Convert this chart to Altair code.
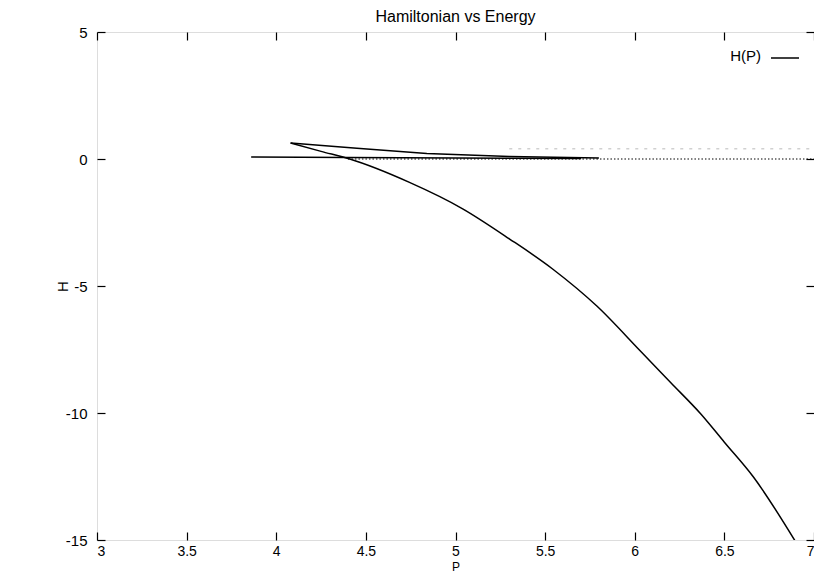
import altair as alt
import pandas as pd

# Main branch of the curve H(P)
main_P = [4.08, 4.25, 4.41, 4.74, 5.04, 5.30, 5.54, 5.79, 6.03, 6.20, 6.37, 6.50, 6.66, 6.90]
main_H = [0.63, 0.30, 0.00, -0.91, -1.96, -3.14, -4.32, -5.80, -7.55, -8.80, -10.05, -11.15, -12.5, -15.1]

# Upper branch leaving the cusp
upper_P = [4.08, 4.45, 4.84, 5.30, 5.80]
upper_H = [0.63, 0.42, 0.22, 0.10, 0.04]

# Nearly flat branch
flat_P = [3.86, 4.40, 5.00, 5.70]
flat_H = [0.08, 0.06, 0.04, 0.02]

# Dotted tail along H = 0
dot_P = [4.40, 7.00]
dot_H = [0.00, 0.00]

# Faint scattered tail above
faint_P = [5.30, 7.00]
faint_H = [0.40, 0.40]

x_ticks = [3, 3.5, 4, 4.5, 5, 5.5, 6, 6.5, 7]
y_ticks = [-15, -10, -5, 0, 5]

main_df = pd.DataFrame({"P": main_P, "H": main_H})
rows = []
for seg, P, H in [("upper", upper_P, upper_H), ("flat", flat_P, flat_H)]:
    for i, (p, h) in enumerate(zip(P, H)):
        rows.append({"seg": seg, "i": i, "P": p, "H": h})
branch_df = pd.DataFrame(rows)
dotted = pd.DataFrame({"P": dot_P, "H": dot_H})
faint = pd.DataFrame({"P": faint_P, "H": faint_H})

FONT = "Liberation Sans"
W, H = 717, 508

xs = alt.Scale(domain=[3, 7], nice=False, zero=False)
ys = alt.Scale(domain=[-15, 5], nice=False, zero=False)

base_axis = dict(tickSize=8, offset=-8, domain=False, grid=False, tickColor="black",
                 tickWidth=1.2, labelFont=FONT, labelFontSize=15, labelColor="black",
                 labelExpr="toString(datum.value)",
                 titleFont=FONT, titleFontSize=15, titleColor="black", titleFontWeight="normal")

x_axis = dict(base_axis, labelFontSize=14, titleFontSize=12)

main_layer = alt.Chart(main_df).mark_line(color="black", strokeWidth=1.5, clip=True,
                                          interpolate="monotone").encode(
    x=alt.X("P:Q", scale=xs, axis=alt.Axis(orient="bottom", values=x_ticks,
                                           labelPadding=4, title="P",
                                           titleX=W / 2, titleY=38, titleBaseline="alphabetic",
                                           **x_axis)),
    y=alt.Y("H:Q", scale=ys, axis=alt.Axis(orient="left", values=y_ticks,
                                           labelPadding=10, title="H",
                                           titleX=-43, titleY=H / 2, titleBaseline="middle",
                                           **base_axis)),
)

branch_layer = alt.Chart(branch_df).mark_line(color="black", strokeWidth=1.5, clip=True).encode(
    x=alt.X("P:Q", scale=xs, axis=None),
    y=alt.Y("H:Q", scale=ys, axis=None),
    detail="seg:N",
    order="i:Q",
)

dot_layer = alt.Chart(dotted).mark_line(color="black", strokeWidth=1.2, strokeDash=[1.5, 2], clip=True).encode(
    x=alt.X("P:Q", scale=xs, axis=alt.Axis(orient="top", values=x_ticks, labels=False, title="", **base_axis)),
    y=alt.Y("H:Q", scale=ys, axis=alt.Axis(orient="right", values=y_ticks, labels=False, title="", **base_axis)),
)

faint_layer = alt.Chart(faint).mark_line(color="#888888", strokeWidth=1, strokeDash=[3, 6], opacity=0.6, clip=True).encode(
    x=alt.X("P:Q", scale=xs, axis=None),
    y=alt.Y("H:Q", scale=ys, axis=None),
)

legend_text = alt.Chart(pd.DataFrame({"t": ["H(P)"]})).mark_text(
    align="right", baseline="middle", font=FONT, fontSize=15, color="black"
).encode(text="t:N", x=alt.value(664), y=alt.value(24))

legend_line = alt.Chart(pd.DataFrame({"t": ["H(P)"]})).mark_rule(color="black", strokeWidth=1.5).encode(
    x=alt.value(674), x2=alt.value(702), y=alt.value(26)
)

chart = alt.layer(main_layer, branch_layer, dot_layer, faint_layer, legend_text, legend_line).resolve_axis(
    x="independent", y="independent"
).properties(
    width=W, height=H,
    title=alt.TitleParams("Hamiltonian vs Energy", font=FONT, fontSize=16, fontWeight="normal",
                          color="black", anchor="middle", offset=0),
    autosize=alt.AutoSizeParams(type="none"),
    padding={"left": 89, "top": 24, "right": 0, "bottom": 33},
).configure_view(stroke="black", strokeWidth=1.5).configure(background="white")

chart.save("out.html", embed_options={"renderer": "svg", "actions": False})
